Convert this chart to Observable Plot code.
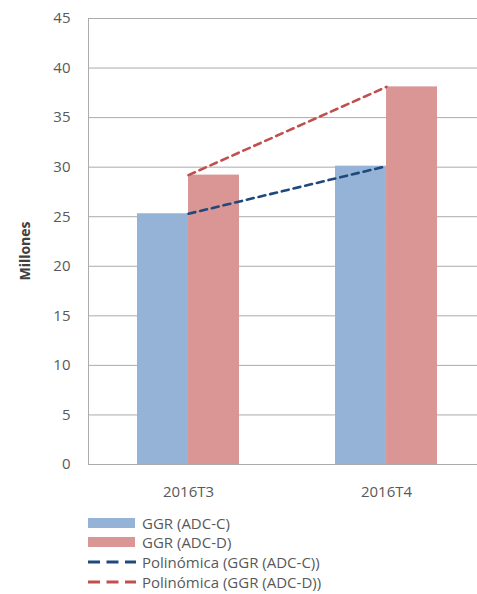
<!DOCTYPE html>
<html>
<head>
<meta charset="utf-8">
<script src="https://cdn.jsdelivr.net/npm/d3@7"></script>
<script src="https://cdn.jsdelivr.net/npm/@observablehq/plot@0.6"></script>
<style>
  html, body { margin: 0; padding: 0; background: #fff; overflow: hidden; }
  #chart { position: relative; width: 477px; }
  .legend { font-family: "Open Sans", sans-serif; font-size: 15px; color: #595959; padding-left: 88px; padding-top: 8px; }
  .row { display: flex; align-items: center; height: 19.6px; }
  .row svg { margin-right: 6px; }
  .ylabel { position: absolute; left: 24px; top: 251px; transform: translate(-50%, -50%) rotate(-90deg); font-family: "Open Sans", sans-serif; font-weight: bold; font-size: 14px; color: #404040; white-space: nowrap; }
</style>
</head>
<body>
<div id="chart"></div>
<script>
const categories = ["2016T3", "2016T4"];
const seriesNames = ["GGR (ADC-C)", "GGR (ADC-D)"];
const trendNames = ["Polinómica (GGR (ADC-C))", "Polinómica (GGR (ADC-D))"];
const adcC = [25.3, 30.1];
const adcD = [29.2, 38.1];
const yTicks = [0, 5, 10, 15, 20, 25, 30, 35, 40, 45];

const barColors = ["#95B3D7", "#D99694"];
const lineColors = ["#1F497D", "#C0504D"];

const dataC = categories.map((c, i) => ({cat: c, value: adcC[i]}));
const dataD = categories.map((c, i) => ({cat: c, value: adcD[i]}));

const W = 477, H = 505, mL = 88, mR = 0, mT = 18, mB = 41;
const pInner = 0.487, pOuter = 0.221, align = 0.552;
const band = d3.scaleBand(categories, [mL, W - mR]).paddingInner(pInner).paddingOuter(pOuter).align(align);
const half = band.bandwidth() / 2;

const plot = Plot.plot({
  width: W, height: H,
  marginLeft: mL, marginRight: mR, marginTop: mT, marginBottom: mB,
  style: {fontFamily: "Open Sans, sans-serif", fontSize: "15px", color: "#595959", background: "#fff"},
  x: {type: "band", domain: categories, paddingInner: pInner, paddingOuter: pOuter, align: align, label: null, tickSize: 0, tickPadding: 22},
  y: {domain: [0, 45], ticks: yTicks, label: null, tickSize: 0, tickPadding: 18},
  marks: [
    Plot.ruleY(yTicks, {stroke: "#ababab", strokeWidth: 1}),
    Plot.frame({anchor: "left", stroke: "#ababab"}),
    Plot.barY(dataC, {x: "cat", y: "value", fill: barColors[0], insetRight: half}),
    Plot.barY(dataD, {x: "cat", y: "value", fill: barColors[1], insetLeft: half}),
    Plot.lineY(dataC, {x: "cat", y: "value", stroke: lineColors[0], strokeWidth: 2.6, strokeDasharray: "7,5"}),
    Plot.lineY(dataD, {x: "cat", y: "value", stroke: lineColors[1], strokeWidth: 2.6, strokeDasharray: "7,5"})
  ]
});
const chart = document.getElementById("chart");
chart.appendChild(plot);

const yl = document.createElement("div");
yl.className = "ylabel";
yl.textContent = "Millones";
chart.appendChild(yl);

const legend = document.createElement("div");
legend.className = "legend";
const items = [
  {name: seriesNames[0], type: "rect", color: barColors[0]},
  {name: seriesNames[1], type: "rect", color: barColors[1]},
  {name: trendNames[0], type: "dash", color: lineColors[0]},
  {name: trendNames[1], type: "dash", color: lineColors[1]}
];
for (const it of items) {
  const row = document.createElement("div");
  row.className = "row";
  const sw = it.type === "rect"
    ? `<svg width="48" height="12"><rect x="0" y="1" width="47" height="10" fill="${it.color}"/></svg>`
    : `<svg width="48" height="12"><line x1="0" y1="6" x2="48" y2="6" stroke="${it.color}" stroke-width="3" stroke-dasharray="12,6.5"/></svg>`;
  row.innerHTML = sw + `<span>${it.name}</span>`;
  legend.appendChild(row);
}
chart.appendChild(legend);
</script>
</body>
</html>
